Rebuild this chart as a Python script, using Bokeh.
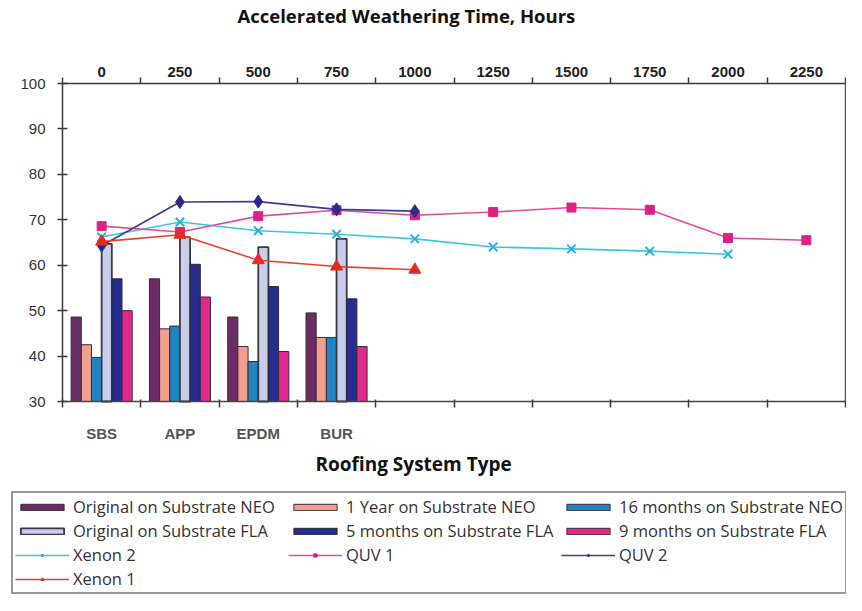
from bokeh.plotting import figure
from bokeh.models import (Range1d, LinearAxis, FixedTicker, Legend, LegendItem,
                          ColumnDataSource, Label)
from bokeh.transform import dodge
from bokeh.embed import file_html
from bokeh.resources import INLINE

# ---------------- data ----------------
roof_types = ["SBS", "APP", "EPDM", "BUR"]

bar_names = ["Original on Substrate NEO", "1 Year on Substrate NEO",
             "16 months on Substrate NEO", "Original on Substrate FLA",
             "5 months on Substrate FLA", "9 months on Substrate FLA"]
orig_neo = [48.6, 57.0, 48.6, 49.5]
year1_neo = [42.5, 46.0, 42.1, 44.1]
m16_neo = [39.7, 46.6, 38.8, 44.1]
orig_fla = [64.7, 66.2, 64.0, 65.8]
m5_fla = [57.0, 60.2, 55.3, 52.6]
m9_fla = [50.0, 53.0, 41.0, 42.1]

hour_ticks = [0, 250, 500, 750, 1000, 1250, 1500, 1750, 2000, 2250]

xenon2_hours = [0, 250, 500, 750, 1000, 1250, 1500, 1750, 2000]
xenon2 = [66.2, 69.5, 67.6, 66.8, 65.8, 64.0, 63.6, 63.1, 62.4]
quv1_hours = [0, 250, 500, 750, 1000, 1250, 1500, 1750, 2000, 2250]
quv1 = [68.6, 67.3, 70.8, 72.1, 71.0, 71.7, 72.7, 72.2, 66.0, 65.5]
quv2_hours = [0, 250, 500, 750, 1000]
quv2 = [64.3, 73.9, 74.0, 72.3, 71.9]
xenon1_hours = [0, 250, 500, 750, 1000]
xenon1 = [65.2, 66.7, 61.1, 59.7, 59.0]

y_ticks = [30, 40, 50, 60, 70, 80, 90, 100]

# ---------------- layout geometry (pixels) ----------------
W, H = 846, 595
L, R, T, B = 62, 845, 83, 401          # chart box inside the canvas
n_cats = len(hour_ticks)
hour_step = hour_ticks[1] - hour_ticks[0]
cat_px = (R - L) / n_cats
x_start = -0.5 - L / cat_px
x_end = n_cats - 0.5 + (W - R) / cat_px
y_lo, y_hi = y_ticks[0], y_ticks[-1]
val_px = (B - T) / (y_hi - y_lo)
y_start = y_lo - (H - B) / val_px
y_end = y_hi + T / val_px

# ---------------- styles ----------------
bar_colors = ["#6b2c64", "#f2a08e", "#1f84c4", "#c9cde9", "#262d8e", "#e2288c"]
bar_edge = ["#3a2a3a", "#3a2a3a", "#3a2a3a", "#3a3a44", "#2a2a3a", "#3a2a3a"]
bar_edge_w = [1, 1, 1, 1.8, 1, 1]
bar_offsets = [-0.325, -0.195, -0.065, 0.065, 0.195, 0.325]
bar_w = 0.13

AX_FONT = "Liberation Sans"
TXT_FONT = "Open Sans"
AX_COLOR = "#3a3a3a"

p = figure(width=W, height=H, output_backend="svg", toolbar_location=None,
           x_range=Range1d(x_start, x_end), y_range=Range1d(y_start, y_end),
           min_border=0, min_border_left=0, min_border_right=0,
           min_border_top=0, min_border_bottom=0,
           x_axis_location=None, y_axis_location=None)
p.extra_x_ranges = {"hours": Range1d(x_start * hour_step, x_end * hour_step)}
p.xgrid.visible = False
p.ygrid.visible = False
p.outline_line_color = None
p.background_fill_color = "white"
p.border_fill_color = "white"

# bars
src = ColumnDataSource(dict(idx=list(range(len(roof_types))), cat=roof_types,
                            s0=orig_neo, s1=year1_neo, s2=m16_neo,
                            s3=orig_fla, s4=m5_fla, s5=m9_fla))
bar_renderers = []
for k in range(6):
    r = p.vbar(x=dodge("idx", bar_offsets[k], range=p.x_range), top="s%d" % k,
               bottom=y_lo, width=bar_w, source=src, fill_color=bar_colors[k],
               line_color=bar_edge[k], line_width=bar_edge_w[k])
    bar_renderers.append(r)

# lines
line_specs = [
    ("Xenon 2", xenon2_hours, xenon2, "#3cc6e4", "x", 12, "#27b4d6", "#27b4d6"),
    ("QUV 1", quv1_hours, quv1, "#dc4f96", "square", 9, "#df1f86", "#df1f86"),
    ("QUV 2", quv2_hours, quv2, "#3c3c92", "diamond", 13, "#2a2a8a", "#2a2a8a"),
    ("Xenon 1", xenon1_hours, xenon1, "#e8402e", "triangle", 12, "#e82a1c", "#e82a1c"),
]
line_items = []
for name, hx, hy, lc, mk, ms, mf, ml in line_specs:
    l = p.line(hx, hy, x_range_name="hours", line_color=lc, line_width=1.6)
    s = p.scatter(hx, hy, x_range_name="hours", marker=mk, size=ms,
                  fill_color=mf, line_color=ml, line_width=2 if mk == "x" else 1)
    line_items.append(LegendItem(label=name, renderers=[l, s]))

cat_bounds = [i - 0.5 for i in range(n_cats + 1)]

# left axis
yax = LinearAxis(ticker=FixedTicker(ticks=y_ticks), fixed_location=cat_bounds[0],
                 bounds=(y_lo, y_hi))
yax.major_tick_in = 5
yax.major_tick_out = 5
yax.minor_tick_line_color = None
yax.major_label_standoff = 12
yax.major_label_text_font = AX_FONT
yax.major_label_text_font_size = "15px"
yax.major_label_text_color = "#333333"
yax.axis_line_color = AX_COLOR
yax.axis_line_width = 1.5
yax.major_tick_line_color = AX_COLOR
yax.major_tick_line_width = 1.5
p.add_layout(yax, "left")

# right border of the chart box
rax = LinearAxis(ticker=FixedTicker(ticks=[]), fixed_location=cat_bounds[-1],
                 bounds=(y_lo, y_hi))
rax.axis_line_color = "#555555"
rax.axis_line_width = 1.5
rax.major_tick_line_color = None
rax.minor_tick_line_color = None
p.add_layout(rax, "right")

# bottom axis (roofing system type)
xax = LinearAxis(ticker=FixedTicker(ticks=list(range(len(roof_types))),
                                    minor_ticks=cat_bounds),
                 fixed_location=y_lo, bounds=(cat_bounds[0], cat_bounds[-1]))
xax.major_label_overrides = {i: c for i, c in enumerate(roof_types)}
xax.major_tick_in = 0
xax.major_tick_out = 0
xax.major_tick_line_color = None
xax.minor_tick_in = 2
xax.minor_tick_out = 6
xax.minor_tick_line_color = AX_COLOR
xax.minor_tick_line_width = 1.5
xax.axis_line_color = "#444444"
xax.axis_line_width = 1.5
xax.major_label_standoff = 17
xax.major_label_text_font = AX_FONT
xax.major_label_text_font_size = "15px"
xax.major_label_text_font_style = "bold"
xax.major_label_text_color = "#555555"
p.add_layout(xax, "below")

# top axis (hours)
top_bounds = [h - hour_step / 2 for h in hour_ticks] + [hour_ticks[-1] + hour_step / 2]
tax = LinearAxis(x_range_name="hours",
                 ticker=FixedTicker(ticks=hour_ticks, minor_ticks=top_bounds),
                 fixed_location=y_hi, bounds=(top_bounds[0], top_bounds[-1]))
tax.major_tick_in = 0
tax.major_tick_out = 0
tax.major_tick_line_color = None
tax.minor_tick_in = 0
tax.minor_tick_out = 6
tax.minor_tick_line_color = AX_COLOR
tax.minor_tick_line_width = 1.5
tax.axis_line_color = AX_COLOR
tax.axis_line_width = 1.5
tax.major_label_standoff = 1
tax.major_label_text_font = AX_FONT
tax.major_label_text_font_size = "15px"
tax.major_label_text_font_style = "bold"
tax.major_label_text_color = "#222222"
p.add_layout(tax, "above")

# titles
p.add_layout(Label(text="Accelerated Weathering Time, Hours", x=237, y=H - 15,
                   x_units="screen", y_units="screen", text_baseline="middle",
                   text_font=TXT_FONT, text_font_size="18.5px",
                   text_font_style="bold", text_color="#111111"))
p.add_layout(Label(text="Roofing System Type", x=315, y=H - 463,
                   x_units="screen", y_units="screen", text_baseline="middle",
                   text_font=TXT_FONT, text_font_size="19px",
                   text_font_style="bold", text_color="#111111"))

# legend
items = [LegendItem(label=n, renderers=[r]) for n, r in zip(bar_names, bar_renderers)]
items += line_items
legend = Legend(items=items, orientation="horizontal", ncols=3,
                location=(11, 1))
legend.padding = 2
legend.spacing = 1
legend.margin = 0
legend.glyph_width = 54
legend.glyph_height = 8
legend.label_height = 20
legend.label_width = 214
legend.label_standoff = 4
legend.label_text_font = TXT_FONT
legend.label_text_font_size = "16.5px"
legend.label_text_color = "#333333"
legend.border_line_color = "#333333"
legend.border_line_width = 2
legend.background_fill_alpha = 1
p.add_layout(legend, "center")

open("out.html", "w").write(file_html(p, INLINE))
